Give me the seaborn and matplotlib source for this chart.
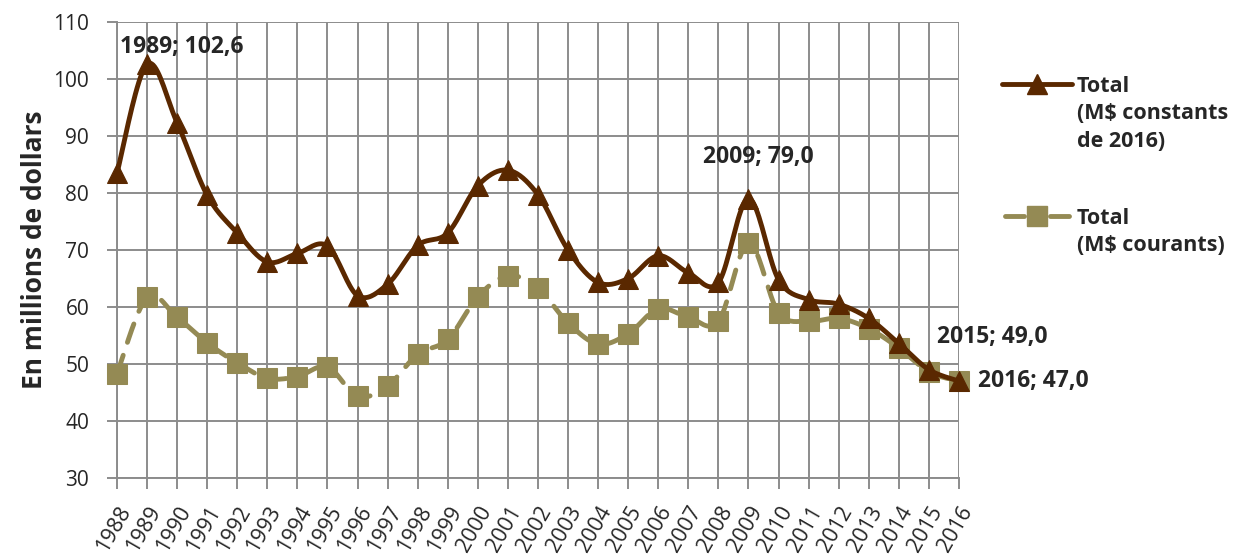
import numpy as np
import pandas as pd
import matplotlib
matplotlib.use("Agg")
import matplotlib.pyplot as plt
import seaborn as sns
from matplotlib.lines import Line2D
from matplotlib import transforms

years = list(range(1988, 2017))
constant = [83.5, 102.6, 92.3, 79.6, 73.0, 67.9, 69.4, 70.7, 62.0, 64.0,
            70.8, 73.0, 81.3, 84.0, 79.7, 70.0, 64.3, 65.0, 69.0, 66.0,
            64.3, 79.0, 64.8, 61.3, 60.5, 58.0, 53.6, 49.0, 47.0]
current = [48.3, 61.7, 58.2, 53.7, 50.2, 47.5, 47.8, 49.5, 44.3, 46.2,
           51.7, 54.3, 61.8, 65.5, 63.3, 57.2, 53.5, 55.3, 59.7, 58.2,
           57.5, 71.2, 59.0, 57.5, 58.0, 56.2, 52.8, 48.6, 47.0]
yticks = [30, 40, 50, 60, 70, 80, 90, 100, 110]
label_constant = "Total\n(M\\$ constants\nde 2016)"
label_current = "Total\n(M\\$ courants)"
annotations = [(1989, 102.6, "1989; 102,6"), (2009, 79.0, "2009; 79,0"),
               (2015, 49.0, "2015; 49,0"), (2016, 47.0, "2016; 47,0")]

BROWN = "#5a2800"
OLIVE = "#948a54"
GRID = "#8c8c8c"

sns.set_theme(style="white")
plt.rcParams['font.family'] = ['Open Sans', 'DejaVu Sans']


def smooth(xs, ys, n=20):
    xs = np.asarray(xs, float)
    ys = np.asarray(ys, float)
    P = np.column_stack([xs, ys])
    out = []
    for i in range(len(P) - 1):
        p0 = P[i - 1] if i > 0 else P[i]
        p1 = P[i]
        p2 = P[i + 1]
        p3 = P[i + 2] if i + 2 < len(P) else P[i + 1]
        c1 = p1 + (p2 - p0) / 6.0
        c2 = p2 - (p3 - p1) / 6.0
        t = np.linspace(0, 1, n, endpoint=(i == len(P) - 2))[:, None]
        seg = ((1 - t) ** 3) * p1 + 3 * ((1 - t) ** 2) * t * c1 + 3 * (1 - t) * t ** 2 * c2 + t ** 3 * p2
        out.append(seg)
    out = np.vstack(out)
    return out[:, 0], out[:, 1]


df = pd.DataFrame({"year": years, "constant": constant, "current": current})

fig = plt.figure(figsize=(12.33, 5.54), dpi=100)
ax = fig.add_axes([117 / 1233, 1 - 478 / 554, (959 - 117) / 1233, (478 - 22) / 554])

LW = 3.5
sx, sy = smooth(df["year"], df["current"])
ax.plot(sx, sy, color=OLIVE, lw=LW, dashes=(4.0, 2.8), solid_capstyle="round",
        dash_capstyle="round", zorder=3, clip_on=False)
sns.lineplot(data=df, x="year", y="current", marker="s", markersize=14, linestyle="",
             color=OLIVE, markeredgecolor=OLIVE, ax=ax, zorder=4, clip_on=False, legend=False)

sx, sy = smooth(df["year"], df["constant"])
ax.plot(sx, sy, color=BROWN, lw=LW, zorder=5, clip_on=False)
sns.lineplot(data=df, x="year", y="constant", marker="^", markersize=14, linestyle="",
             color=BROWN, markeredgecolor=BROWN, ax=ax, zorder=6, clip_on=False, legend=False)

ax.set_xlim(1988, 2016)
ax.set_ylim(30, 110)
ax.grid(True, color=GRID, lw=1.4)
ax.set_axisbelow(True)
for s in ["top", "right"]:
    ax.spines[s].set_visible(False)
for s in ["left", "bottom"]:
    ax.spines[s].set_color(GRID)
    ax.spines[s].set_linewidth(1.4)
ax.tick_params(axis="y", which="both", left=True, length=7, width=1.4, color=GRID,
               pad=13, labelsize=15)
ax.tick_params(axis="x", which="both", bottom=True, length=8, width=1.4, color=GRID,
               pad=2, labelsize=15.5)
ax.set_yticks(yticks)
ax.set_yticklabels([str(v) for v in yticks])
ax.set_xticks(years)
ax.set_xticklabels([str(y) for y in years], rotation=60,
                   ha="right", va="center", rotation_mode="anchor")
offset = transforms.ScaledTranslation(9 / 100, -16 / 100, fig.dpi_scale_trans)
for lab in ax.get_xticklabels():
    lab.set_transform(lab.get_transform() + offset)

ax.set_xlabel("")
ax.set_ylabel("En millions de dollars", fontsize=19, fontweight="bold", labelpad=4)

offsets = {1989: (-27, 17), 2009: (-45, 42), 2015: (8, 33), 2016: (19, 0)}
for x, y, txt in annotations:
    dx, dy = offsets[x]
    ax.annotate(txt, xy=(x, y), xytext=(dx, dy), textcoords="offset pixels",
                ha="left", va="center", fontsize=16.5, fontweight="bold", zorder=10)


def place(ypix, color, marker, ms, dashed, label):
    yf = 1 - ypix / 554
    x0, x1 = 1002 / 1233, 1072 / 1233
    kw = dict(color=color, lw=LW, transform=fig.transFigure)
    if dashed:
        fig.add_artist(Line2D([x0 + 3 / 1233, x0 + 22 / 1233], [yf, yf], solid_capstyle="round", **kw))
        fig.add_artist(Line2D([x1 - 22 / 1233, x1 - 3 / 1233], [yf, yf], solid_capstyle="round", **kw))
    else:
        fig.add_artist(Line2D([x0, x1], [yf, yf], **kw))
    fig.add_artist(Line2D([(x0 + x1) / 2], [yf], marker=marker, markersize=ms, color=color,
                          markeredgecolor=color, linestyle="", transform=fig.transFigure))
    fig.text(1077 / 1233, yf + 8 / 554, label, ha="left", va="top", fontsize=15.5,
             fontweight="bold", linespacing=1.4)


place(84, BROWN, "^", 14, False, label_constant)
place(216, OLIVE, "s", 14, True, label_current)

fig.savefig("out.png", dpi=100)
